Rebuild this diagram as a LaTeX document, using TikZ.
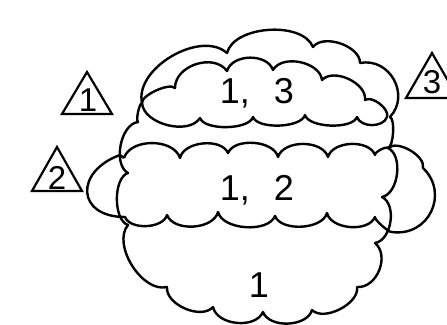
\documentclass[tikz,border=0pt]{standalone}
\usepackage{fontspec}
\usepackage{tikz}
\newfontfamily\draftfont{Liberation Sans}

\begin{document}
\begin{tikzpicture}[
    x=1pt, y=1pt,
    cloudline/.style={
        draw=black,
        line width=2.4pt,
        line join=round
    },
    hump/.style={
        bend left=72,
        looseness=#1
    },
    delta/.style={
        draw=black,
        line width=2.2pt,
        line join=miter
    },
    zonelabel/.style={
        font=\draftfont\fontsize{36}{36}\selectfont,
        anchor=base,
        inner sep=0pt
    },
    revlabel/.style={
        font=\draftfont\fontsize{33}{33}\selectfont,
        anchor=base,
        inner sep=0pt
    }
]

\useasboundingbox (0,0) rectangle (447,-324);

% --- Cloud of revision 1 (outer outline) ------------------------------------

\draw[cloudline] (142,-103)
    to[hump=0.92] (227,-53)
    to[hump=0.84] (313,-47)
    to[hump=0.88] (360,-63)
    to[hump=1.25] (390,-117)
    to[hump=0.47] (388,-148)
    to[hump=0.88] (382,-197)
    to[hump=0.93] (375,-243)
    to[hump=1.07] (357,-287)
    to[hump=0.85] (312,-310)
    to[hump=0.92] (263,-312)
    to[hump=0.96] (213,-307)
    to[hump=0.9]  (167,-287)
    to[hump=0.89] (128,-225)
    to[hump=0.77] (128,-173)
    to[hump=0.87] (138,-122)
    to[hump=0.37] (142,-103);

% --- Cloud of revision 3 (upper band) ---------------------------------------

\draw[cloudline] (142,-103)
    to[hump=0.55] (175,-88)
    to[hump=1.06] (227,-71)
    to[hump=1.0]  (273,-70)
    to[hump=0.94] (322,-80)
    to[hump=0.92] (365,-100)
    to[hump=0.78] (387,-117)
    to[hump=0.97] (357,-117)
    to[hump=0.66] (305,-115)
    to[hump=0.66] (253,-117)
    to[hump=0.65] (200,-118)
    to[hump=0.9]  (142,-103);

% --- Cloud of revision 2 (middle band) --------------------------------------

\draw[cloudline] (124,-158)
    to[hump=0.96] (180,-158)
    to[hump=0.9]  (228,-153)
    to[hump=0.87] (278,-157)
    to[hump=0.94] (328,-157)
    to[hump=0.92] (375,-155)
    to[hump=0.5]  (388,-148)
    to[hump=0.8]  (423,-168)
    to[hump=1.33] (392,-232)
    to[hump=0.3]  (375,-217)
    to[hump=0.9]  (327,-213)
    to[hump=0.84] (275,-216)
    to[hump=0.83] (218,-212)
    to[hump=0.92] (167,-215)
    to[hump=0.86] (125,-217)
    to[out=180, in=200, looseness=2] (120,-155)
    -- (124,-158);

% --- Zone labels -------------------------------------------------------------

\node[zonelabel] (zone13) at (257,-103) {1,\hspace{24pt}3};
\node[zonelabel] (zone12) at (257,-200) {1,\hspace{24pt}2};
\node[zonelabel] (zone1) at (259,-297) {1};

% --- Revision triangles ------------------------------------------------------

\draw[delta] (87,-72) -- (112,-114) -- (62,-114) -- cycle;
\node[revlabel] (rev1) at (88,-111) {1};

\draw[delta] (57,-147) -- (82,-191) -- (32,-191) -- cycle;
\node[revlabel] (rev2) at (57,-189) {2};

\draw[delta] (432,-53) -- (458,-98) -- (406,-98) -- cycle;
\node[revlabel] (rev3) at (432,-93) {3};

\end{tikzpicture}
\end{document}
